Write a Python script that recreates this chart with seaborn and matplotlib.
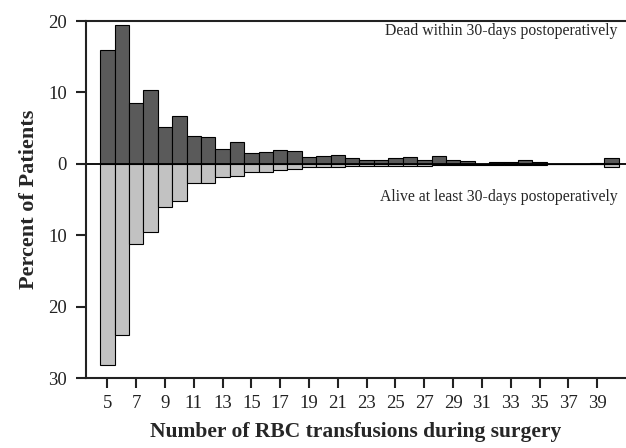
import numpy as np
import pandas as pd
import seaborn as sns
import matplotlib
matplotlib.use("Agg")
import matplotlib.pyplot as plt

# number of RBC transfusions (one bar per count)
transfusions = list(range(5, 41))
# percent of patients
dead_pct = [16.0, 19.5, 8.5, 10.3, 5.2, 6.7, 3.9, 3.7, 2.1, 3.1,
            1.5, 1.6, 1.9, 1.8, 1.0, 1.1, 1.3, 0.85, 0.55, 0.5,
            0.85, 1.0, 0.5, 1.1, 0.6, 0.4, 0.05, 0.25, 0.25, 0.6,
            0.25, 0.05, 0.0, 0.0, 0.15, 0.85]
alive_pct = [28.2, 23.9, 11.2, 9.6, 6.1, 5.2, 2.7, 2.7, 1.8, 1.7,
             1.2, 1.1, 0.9, 0.7, 0.5, 0.4, 0.4, 0.35, 0.3, 0.3,
             0.3, 0.25, 0.25, 0.2, 0.2, 0.15, 0.15, 0.1, 0.1, 0.1,
             0.1, 0.05, 0.05, 0.05, 0.05, 0.4]
x_ticks = list(range(5, 40, 2))
y_ticks = [20, 10, 0, -10, -20, -30]

sns.set_style("ticks")
plt.rcParams['font.family'] = ['Liberation Serif', 'DejaVu Serif']

df = pd.DataFrame({'n': transfusions,
                   'dead': dead_pct,
                   'alive': [-v for v in alive_pct]})

fig = plt.figure(figsize=(6.26, 4.48), dpi=100)
ax = fig.add_axes([0.137, 0.156, 0.863, 0.797])

# dead patients above zero, alive below
sns.barplot(df, x='n', y='dead', native_scale=True, width=1,
            color='#5a5a5a', saturation=1, edgecolor='black',
            linewidth=0.8, ax=ax)
sns.barplot(df, x='n', y='alive', native_scale=True, width=1,
            color='#c2c2c2', saturation=1, edgecolor='black',
            linewidth=0.8, ax=ax)
ax.axhline(0, color='black', lw=1.3)

ax.set_xlim(3.5, 41.0)
ax.set_ylim(-30, 20)
ax.set_xticks(x_ticks)
ax.set_xticklabels([str(t) for t in x_ticks])
ax.set_yticks(y_ticks)
ax.set_yticklabels([str(abs(t)) for t in y_ticks])
ax.tick_params(axis='both', labelsize=13.5, length=7.5, width=1.5,
               color='#222222', labelcolor='#222222')
ax.tick_params(axis='y', pad=6)
ax.tick_params(axis='x', pad=5)

for s in ['left', 'bottom', 'top']:
    ax.spines[s].set_linewidth(1.5)
    ax.spines[s].set_color('#222222')
ax.spines['right'].set_visible(False)

ax.set_xlabel('Number of RBC transfusions during surgery',
              fontsize=15.5, fontweight='bold', labelpad=7)
ax.set_ylabel('Percent of Patients', fontsize=16,
              fontweight='bold', labelpad=7)

ax.text(40.4, 18.6, 'Dead within 30-days postoperatively',
        ha='right', va='center', fontsize=11.3)
ax.text(40.4, -4.6, 'Alive at least 30-days postoperatively',
        ha='right', va='center', fontsize=11.3)

fig.savefig('out.png', dpi=100)
